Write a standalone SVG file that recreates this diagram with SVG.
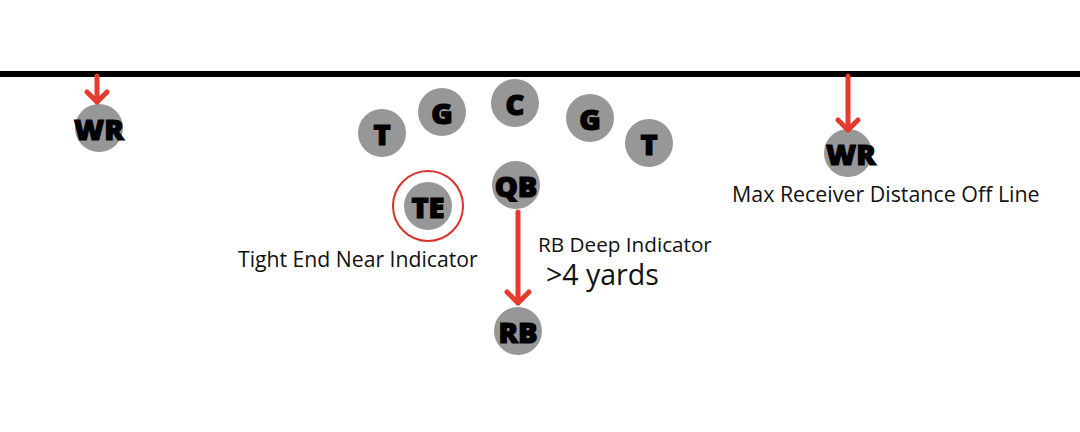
<svg xmlns="http://www.w3.org/2000/svg" width="1080" height="432" viewBox="0 0 1080 432">
<style>
.p{fill:#979797}
.lbl{font-family:"Open Sans","Liberation Sans",sans-serif;font-weight:800;font-size:29px;fill:#000;stroke:#000;stroke-width:1.2;text-anchor:middle;dominant-baseline:central}
.cap{font-family:"Open Sans","Liberation Sans",sans-serif;font-size:21.2px;fill:#111}
.arr{stroke:#e63a2e;stroke-width:5;fill:none;stroke-linecap:round;stroke-linejoin:round}
</style>
<rect width="1080" height="432" fill="#fff"/>
<line x1="0" y1="74" x2="1080" y2="74" stroke="#000" stroke-width="6"/>
<g id="wr-left"><circle class="p" cx="99" cy="128" r="24"/><text class="lbl" x="99" y="128">WR</text></g>
<g id="t-left"><circle class="p" cx="382" cy="133" r="24"/><text class="lbl" x="382" y="133">T</text></g>
<g id="g-left"><circle class="p" cx="442" cy="112" r="24"/><text class="lbl" x="442" y="112">G</text></g>
<g id="c"><circle class="p" cx="515" cy="103" r="24"/><text class="lbl" x="515" y="103">C</text></g>
<g id="g-right"><circle class="p" cx="590" cy="118" r="24"/><text class="lbl" x="590" y="118">G</text></g>
<g id="t-right"><circle class="p" cx="649" cy="143" r="24"/><text class="lbl" x="649" y="143">T</text></g>
<g id="qb"><circle class="p" cx="516" cy="185" r="24"/><text class="lbl" x="516" y="185">QB</text></g>
<g id="te"><circle cx="428" cy="206" r="35" fill="none" stroke="#d9322b" stroke-width="2"/><circle class="p" cx="428" cy="206" r="24"/><text class="lbl" x="428" y="206">TE</text></g>
<g id="rb"><circle class="p" cx="518" cy="331" r="24"/><text class="lbl" x="518" y="331">RB</text></g>
<g id="wr-right"><circle class="p" cx="848" cy="153" r="24"/><text class="lbl" x="851" y="153">WR</text></g>
<g id="connectors">
<path class="arr" d="M97 76 V102 M87 92 L97 102 L107 92"/>
<path class="arr" d="M848 76 V130 M838 120 L848 130 L858 120"/>
<path class="arr" d="M518 212 V303 M507 292 L518 303 L529 292"/>
</g>
<text class="cap" x="238" y="267">Tight End Near Indicator</text>
<text class="cap" x="538" y="252" style="font-size:20.7px">RB Deep Indicator</text>
<text class="cap" x="546" y="285" style="font-size:28.5px">&gt;4 yards</text>
<text class="cap" x="732" y="202" style="font-size:21.4px">Max Receiver Distance Off Line</text>
</svg>
